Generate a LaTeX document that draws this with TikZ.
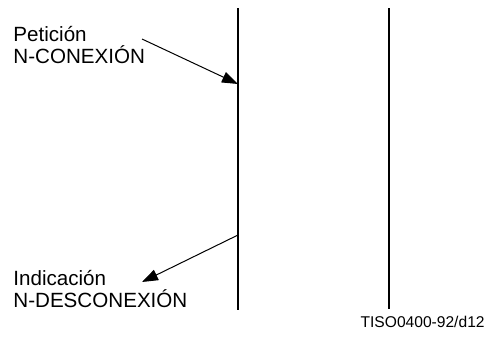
\documentclass[tikz,border=0pt]{standalone}
\usepackage{fontspec}
\setmainfont{Liberation Sans}
\usetikzlibrary{arrows.meta}

\begin{document}
\begin{tikzpicture}[x=0.5pt,y=-0.5pt,
    lbl/.style={inner sep=0pt,align=left,font=\fontsize{10.3}{10.8}\selectfont},
    stn/.style={line width=1pt},
    prim/.style={line width=0.5pt,-{Triangle[length=8pt,width=5.6pt]}}]
    \useasboundingbox (0,0) rectangle (485,338);
    % the two stations
    \coordinate (lt) at (238,8);
    \coordinate (lb) at (238,310);
    \coordinate (rt) at (389,8);
    \coordinate (rb) at (389,309);
    \draw[stn] (lt) -- (lb);
    \draw[stn] (rt) -- (rb);
    % labels
    \node[lbl,anchor=base west] (req) at (13,63) {Petición\\N-CONEXIÓN};
    \node[lbl,anchor=base west] (ind) at (13,307) {Indicación\\N-DESCONEXIÓN};
    \node[inner sep=0pt,anchor=base east,font=\fontsize{7.8}{9}\selectfont] (ref) at (485,327) {TISO0400-92/d12};
    % request in
    \coordinate (reqs) at (142,39);
    \coordinate (reqe) at (238,84);
    \draw[prim] (reqs) -- (reqe);
    % indication out
    \coordinate (inds) at (238,235);
    \coordinate (inde) at (142,282);
    \draw[prim] (inds) -- (inde);
\end{tikzpicture}
\end{document}
